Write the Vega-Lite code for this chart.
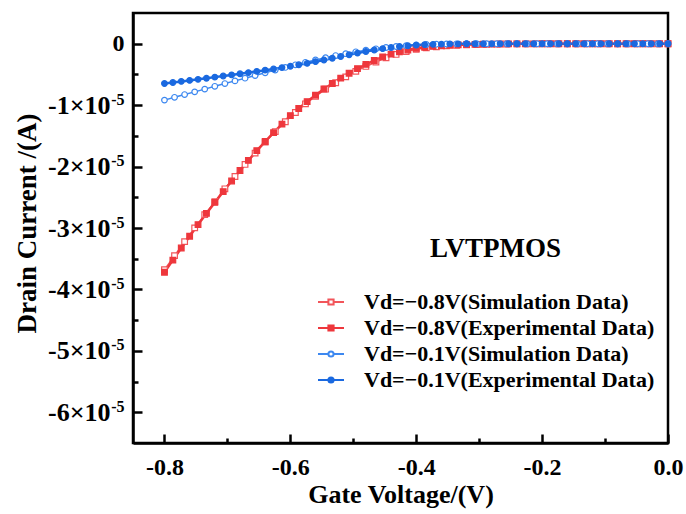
{
  "$schema": "https://vega.github.io/schema/vega-lite/v6.json",
  "width": 535,
  "height": 430,
  "autosize": {"type": "none"},
  "padding": {"left": 133, "top": 13, "right": 18, "bottom": 71},
  "background": "white",
  "config": {
    "view": {"stroke": "black", "strokeWidth": 2.5},
    "font": "Liberation Serif",
    "axis": {
      "grid": false,
      "domainColor": "black",
      "domainWidth": 2.5,
      "tickColor": "black",
      "tickWidth": 2.5,
      "labelFont": "Liberation Serif",
      "labelFontWeight": "bold",
      "labelFontSize": 24,
      "labelColor": "black",
      "labelFlush": false,
      "labelOverlap": false,
      "titleFont": "Liberation Serif",
      "titleFontWeight": "bold",
      "titleFontSize": 26,
      "titleColor": "black"
    }
  },
  "data": {
    "values": [
      {"series": "Vd=−0.8V(Simulation Data)", "V": -0.8, "I": -3.68e-5},
      {"series": "Vd=−0.8V(Simulation Data)", "V": -0.784, "I": -3.45e-5},
      {"series": "Vd=−0.8V(Simulation Data)", "V": -0.768, "I": -3.222e-5},
      {"series": "Vd=−0.8V(Simulation Data)", "V": -0.752, "I": -2.998e-5},
      {"series": "Vd=−0.8V(Simulation Data)", "V": -0.736, "I": -2.782e-5},
      {"series": "Vd=−0.8V(Simulation Data)", "V": -0.72, "I": -2.57e-5},
      {"series": "Vd=−0.8V(Simulation Data)", "V": -0.704, "I": -2.362e-5},
      {"series": "Vd=−0.8V(Simulation Data)", "V": -0.688, "I": -2.161e-5},
      {"series": "Vd=−0.8V(Simulation Data)", "V": -0.672, "I": -1.965e-5},
      {"series": "Vd=−0.8V(Simulation Data)", "V": -0.656, "I": -1.78e-5},
      {"series": "Vd=−0.8V(Simulation Data)", "V": -0.64, "I": -1.602e-5},
      {"series": "Vd=−0.8V(Simulation Data)", "V": -0.624, "I": -1.43e-5},
      {"series": "Vd=−0.8V(Simulation Data)", "V": -0.608, "I": -1.27e-5},
      {"series": "Vd=−0.8V(Simulation Data)", "V": -0.592, "I": -1.12e-5},
      {"series": "Vd=−0.8V(Simulation Data)", "V": -0.576, "I": -0.979e-5},
      {"series": "Vd=−0.8V(Simulation Data)", "V": -0.56, "I": -0.856e-5},
      {"series": "Vd=−0.8V(Simulation Data)", "V": -0.544, "I": -0.74e-5},
      {"series": "Vd=−0.8V(Simulation Data)", "V": -0.528, "I": -0.635e-5},
      {"series": "Vd=−0.8V(Simulation Data)", "V": -0.512, "I": -0.54e-5},
      {"series": "Vd=−0.8V(Simulation Data)", "V": -0.496, "I": -0.45e-5},
      {"series": "Vd=−0.8V(Simulation Data)", "V": -0.48, "I": -0.37e-5},
      {"series": "Vd=−0.8V(Simulation Data)", "V": -0.464, "I": -0.297e-5},
      {"series": "Vd=−0.8V(Simulation Data)", "V": -0.448, "I": -0.228e-5},
      {"series": "Vd=−0.8V(Simulation Data)", "V": -0.432, "I": -0.174e-5},
      {"series": "Vd=−0.8V(Simulation Data)", "V": -0.416, "I": -0.128e-5},
      {"series": "Vd=−0.8V(Simulation Data)", "V": -0.4, "I": -0.09e-5},
      {"series": "Vd=−0.8V(Simulation Data)", "V": -0.384, "I": -0.068e-5},
      {"series": "Vd=−0.8V(Simulation Data)", "V": -0.368, "I": -0.049e-5},
      {"series": "Vd=−0.8V(Simulation Data)", "V": -0.352, "I": -0.035e-5},
      {"series": "Vd=−0.8V(Simulation Data)", "V": -0.336, "I": -0.026e-5},
      {"series": "Vd=−0.8V(Simulation Data)", "V": -0.32, "I": -0.018e-5},
      {"series": "Vd=−0.8V(Simulation Data)", "V": -0.304, "I": -0.013e-5},
      {"series": "Vd=−0.8V(Simulation Data)", "V": -0.288, "I": -0.0096e-5},
      {"series": "Vd=−0.8V(Simulation Data)", "V": -0.272, "I": -0.0066e-5},
      {"series": "Vd=−0.8V(Simulation Data)", "V": -0.256, "I": -0.0047e-5},
      {"series": "Vd=−0.8V(Simulation Data)", "V": -0.24, "I": -0.0034e-5},
      {"series": "Vd=−0.8V(Simulation Data)", "V": -0.224, "I": -0.0025e-5},
      {"series": "Vd=−0.8V(Simulation Data)", "V": -0.208, "I": -0.0017e-5},
      {"series": "Vd=−0.8V(Simulation Data)", "V": -0.192, "I": -0.0011e-5},
      {"series": "Vd=−0.8V(Simulation Data)", "V": -0.176, "I": -0.0008e-5},
      {"series": "Vd=−0.8V(Simulation Data)", "V": -0.16, "I": -0.0006e-5},
      {"series": "Vd=−0.8V(Simulation Data)", "V": -0.144, "I": -0.0004e-5},
      {"series": "Vd=−0.8V(Simulation Data)", "V": -0.128, "I": -0.0002e-5},
      {"series": "Vd=−0.8V(Simulation Data)", "V": -0.112, "I": -0.00015e-5},
      {"series": "Vd=−0.8V(Simulation Data)", "V": -0.096, "I": -0.0001e-5},
      {"series": "Vd=−0.8V(Simulation Data)", "V": -0.08, "I": -0.00008e-5},
      {"series": "Vd=−0.8V(Simulation Data)", "V": -0.064, "I": -0.00006e-5},
      {"series": "Vd=−0.8V(Simulation Data)", "V": -0.048, "I": -0.00005e-5},
      {"series": "Vd=−0.8V(Simulation Data)", "V": -0.032, "I": -0.00004e-5},
      {"series": "Vd=−0.8V(Simulation Data)", "V": -0.016, "I": -0.00003e-5},
      {"series": "Vd=−0.8V(Simulation Data)", "V": 0, "I": -0.00002e-5},

      {"series": "Vd=−0.8V(Experimental Data)", "V": -0.8, "I": -3.72e-5},
      {"series": "Vd=−0.8V(Experimental Data)", "V": -0.78667, "I": -3.523e-5},
      {"series": "Vd=−0.8V(Experimental Data)", "V": -0.77333, "I": -3.326e-5},
      {"series": "Vd=−0.8V(Experimental Data)", "V": -0.76, "I": -3.134e-5},
      {"series": "Vd=−0.8V(Experimental Data)", "V": -0.74667, "I": -2.945e-5},
      {"series": "Vd=−0.8V(Experimental Data)", "V": -0.73333, "I": -2.763e-5},
      {"series": "Vd=−0.8V(Experimental Data)", "V": -0.72, "I": -2.584e-5},
      {"series": "Vd=−0.8V(Experimental Data)", "V": -0.70667, "I": -2.408e-5},
      {"series": "Vd=−0.8V(Experimental Data)", "V": -0.69333, "I": -2.235e-5},
      {"series": "Vd=−0.8V(Experimental Data)", "V": -0.68, "I": -2.064e-5},
      {"series": "Vd=−0.8V(Experimental Data)", "V": -0.66667, "I": -1.9e-5},
      {"series": "Vd=−0.8V(Experimental Data)", "V": -0.65333, "I": -1.74e-5},
      {"series": "Vd=−0.8V(Experimental Data)", "V": -0.64, "I": -1.592e-5},
      {"series": "Vd=−0.8V(Experimental Data)", "V": -0.62667, "I": -1.448e-5},
      {"series": "Vd=−0.8V(Experimental Data)", "V": -0.61333, "I": -1.309e-5},
      {"series": "Vd=−0.8V(Experimental Data)", "V": -0.6, "I": -1.17e-5},
      {"series": "Vd=−0.8V(Experimental Data)", "V": -0.58667, "I": -1.055e-5},
      {"series": "Vd=−0.8V(Experimental Data)", "V": -0.57333, "I": -0.942e-5},
      {"series": "Vd=−0.8V(Experimental Data)", "V": -0.56, "I": -0.838e-5},
      {"series": "Vd=−0.8V(Experimental Data)", "V": -0.54667, "I": -0.737e-5},
      {"series": "Vd=−0.8V(Experimental Data)", "V": -0.53333, "I": -0.647e-5},
      {"series": "Vd=−0.8V(Experimental Data)", "V": -0.52, "I": -0.56e-5},
      {"series": "Vd=−0.8V(Experimental Data)", "V": -0.50667, "I": -0.48e-5},
      {"series": "Vd=−0.8V(Experimental Data)", "V": -0.49333, "I": -0.405e-5},
      {"series": "Vd=−0.8V(Experimental Data)", "V": -0.48, "I": -0.336e-5},
      {"series": "Vd=−0.8V(Experimental Data)", "V": -0.46667, "I": -0.273e-5},
      {"series": "Vd=−0.8V(Experimental Data)", "V": -0.45333, "I": -0.215e-5},
      {"series": "Vd=−0.8V(Experimental Data)", "V": -0.44, "I": -0.17e-5},
      {"series": "Vd=−0.8V(Experimental Data)", "V": -0.42667, "I": -0.13e-5},
      {"series": "Vd=−0.8V(Experimental Data)", "V": -0.41333, "I": -0.102e-5},
      {"series": "Vd=−0.8V(Experimental Data)", "V": -0.4, "I": -0.075e-5},
      {"series": "Vd=−0.8V(Experimental Data)", "V": -0.38667, "I": -0.059e-5},
      {"series": "Vd=−0.8V(Experimental Data)", "V": -0.37333, "I": -0.044e-5},
      {"series": "Vd=−0.8V(Experimental Data)", "V": -0.36, "I": -0.034e-5},
      {"series": "Vd=−0.8V(Experimental Data)", "V": -0.34667, "I": -0.025e-5},
      {"series": "Vd=−0.8V(Experimental Data)", "V": -0.33333, "I": -0.019e-5},
      {"series": "Vd=−0.8V(Experimental Data)", "V": -0.32, "I": -0.014e-5},
      {"series": "Vd=−0.8V(Experimental Data)", "V": -0.30667, "I": -0.011e-5},
      {"series": "Vd=−0.8V(Experimental Data)", "V": -0.29333, "I": -0.008e-5},
      {"series": "Vd=−0.8V(Experimental Data)", "V": -0.28, "I": -0.006e-5},
      {"series": "Vd=−0.8V(Experimental Data)", "V": -0.26667, "I": -0.0043e-5},
      {"series": "Vd=−0.8V(Experimental Data)", "V": -0.25333, "I": -0.0033e-5},
      {"series": "Vd=−0.8V(Experimental Data)", "V": -0.24, "I": -0.0026e-5},
      {"series": "Vd=−0.8V(Experimental Data)", "V": -0.22667, "I": -0.002e-5},
      {"series": "Vd=−0.8V(Experimental Data)", "V": -0.21333, "I": -0.0015e-5},
      {"series": "Vd=−0.8V(Experimental Data)", "V": -0.2, "I": -0.001e-5},
      {"series": "Vd=−0.8V(Experimental Data)", "V": -0.18667, "I": -0.0008e-5},
      {"series": "Vd=−0.8V(Experimental Data)", "V": -0.17333, "I": -0.0007e-5},
      {"series": "Vd=−0.8V(Experimental Data)", "V": -0.16, "I": -0.0005e-5},
      {"series": "Vd=−0.8V(Experimental Data)", "V": -0.14667, "I": -0.0004e-5},
      {"series": "Vd=−0.8V(Experimental Data)", "V": -0.13333, "I": -0.0003e-5},
      {"series": "Vd=−0.8V(Experimental Data)", "V": -0.12, "I": -0.0002e-5},
      {"series": "Vd=−0.8V(Experimental Data)", "V": -0.10667, "I": -0.00015e-5},
      {"series": "Vd=−0.8V(Experimental Data)", "V": -0.09333, "I": -0.00012e-5},
      {"series": "Vd=−0.8V(Experimental Data)", "V": -0.08, "I": -0.0001e-5},
      {"series": "Vd=−0.8V(Experimental Data)", "V": -0.06667, "I": -0.00008e-5},
      {"series": "Vd=−0.8V(Experimental Data)", "V": -0.05333, "I": -0.00007e-5},
      {"series": "Vd=−0.8V(Experimental Data)", "V": -0.04, "I": -0.00006e-5},
      {"series": "Vd=−0.8V(Experimental Data)", "V": -0.02667, "I": -0.00005e-5},
      {"series": "Vd=−0.8V(Experimental Data)", "V": -0.01333, "I": -0.00004e-5},
      {"series": "Vd=−0.8V(Experimental Data)", "V": 0, "I": -0.00003e-5},

      {"series": "Vd=−0.1V(Simulation Data)", "V": -0.8, "I": -0.918e-5},
      {"series": "Vd=−0.1V(Simulation Data)", "V": -0.784, "I": -0.873e-5},
      {"series": "Vd=−0.1V(Simulation Data)", "V": -0.768, "I": -0.828e-5},
      {"series": "Vd=−0.1V(Simulation Data)", "V": -0.752, "I": -0.784e-5},
      {"series": "Vd=−0.1V(Simulation Data)", "V": -0.736, "I": -0.739e-5},
      {"series": "Vd=−0.1V(Simulation Data)", "V": -0.72, "I": -0.694e-5},
      {"series": "Vd=−0.1V(Simulation Data)", "V": -0.704, "I": -0.649e-5},
      {"series": "Vd=−0.1V(Simulation Data)", "V": -0.688, "I": -0.605e-5},
      {"series": "Vd=−0.1V(Simulation Data)", "V": -0.672, "I": -0.561e-5},
      {"series": "Vd=−0.1V(Simulation Data)", "V": -0.656, "I": -0.517e-5},
      {"series": "Vd=−0.1V(Simulation Data)", "V": -0.64, "I": -0.473e-5},
      {"series": "Vd=−0.1V(Simulation Data)", "V": -0.624, "I": -0.429e-5},
      {"series": "Vd=−0.1V(Simulation Data)", "V": -0.608, "I": -0.386e-5},
      {"series": "Vd=−0.1V(Simulation Data)", "V": -0.592, "I": -0.344e-5},
      {"series": "Vd=−0.1V(Simulation Data)", "V": -0.576, "I": -0.303e-5},
      {"series": "Vd=−0.1V(Simulation Data)", "V": -0.56, "I": -0.264e-5},
      {"series": "Vd=−0.1V(Simulation Data)", "V": -0.544, "I": -0.227e-5},
      {"series": "Vd=−0.1V(Simulation Data)", "V": -0.528, "I": -0.193e-5},
      {"series": "Vd=−0.1V(Simulation Data)", "V": -0.512, "I": -0.162e-5},
      {"series": "Vd=−0.1V(Simulation Data)", "V": -0.496, "I": -0.132e-5},
      {"series": "Vd=−0.1V(Simulation Data)", "V": -0.48, "I": -0.106e-5},
      {"series": "Vd=−0.1V(Simulation Data)", "V": -0.464, "I": -0.083e-5},
      {"series": "Vd=−0.1V(Simulation Data)", "V": -0.448, "I": -0.062e-5},
      {"series": "Vd=−0.1V(Simulation Data)", "V": -0.432, "I": -0.045e-5},
      {"series": "Vd=−0.1V(Simulation Data)", "V": -0.416, "I": -0.0315e-5},
      {"series": "Vd=−0.1V(Simulation Data)", "V": -0.4, "I": -0.02e-5},
      {"series": "Vd=−0.1V(Simulation Data)", "V": -0.384, "I": -0.013e-5},
      {"series": "Vd=−0.1V(Simulation Data)", "V": -0.368, "I": -0.0075e-5},
      {"series": "Vd=−0.1V(Simulation Data)", "V": -0.352, "I": -0.0039e-5},
      {"series": "Vd=−0.1V(Simulation Data)", "V": -0.336, "I": -0.0022e-5},
      {"series": "Vd=−0.1V(Simulation Data)", "V": -0.32, "I": -0.001e-5},
      {"series": "Vd=−0.1V(Simulation Data)", "V": -0.304, "I": -0.0005e-5},
      {"series": "Vd=−0.1V(Simulation Data)", "V": -0.288, "I": -0.0003e-5},
      {"series": "Vd=−0.1V(Simulation Data)", "V": -0.272, "I": -0.0002e-5},
      {"series": "Vd=−0.1V(Simulation Data)", "V": -0.256, "I": -0.00015e-5},
      {"series": "Vd=−0.1V(Simulation Data)", "V": -0.24, "I": -0.0001e-5},
      {"series": "Vd=−0.1V(Simulation Data)", "V": -0.224, "I": -0.00009e-5},
      {"series": "Vd=−0.1V(Simulation Data)", "V": -0.208, "I": -0.00008e-5},
      {"series": "Vd=−0.1V(Simulation Data)", "V": -0.192, "I": -0.00007e-5},
      {"series": "Vd=−0.1V(Simulation Data)", "V": -0.176, "I": -0.00006e-5},
      {"series": "Vd=−0.1V(Simulation Data)", "V": -0.16, "I": -0.00005e-5},
      {"series": "Vd=−0.1V(Simulation Data)", "V": -0.144, "I": -0.00005e-5},
      {"series": "Vd=−0.1V(Simulation Data)", "V": -0.128, "I": -0.00004e-5},
      {"series": "Vd=−0.1V(Simulation Data)", "V": -0.112, "I": -0.00004e-5},
      {"series": "Vd=−0.1V(Simulation Data)", "V": -0.096, "I": -0.00003e-5},
      {"series": "Vd=−0.1V(Simulation Data)", "V": -0.08, "I": -0.00003e-5},
      {"series": "Vd=−0.1V(Simulation Data)", "V": -0.064, "I": -0.00002e-5},
      {"series": "Vd=−0.1V(Simulation Data)", "V": -0.048, "I": -0.00002e-5},
      {"series": "Vd=−0.1V(Simulation Data)", "V": -0.032, "I": -0.00002e-5},
      {"series": "Vd=−0.1V(Simulation Data)", "V": -0.016, "I": -0.00001e-5},
      {"series": "Vd=−0.1V(Simulation Data)", "V": 0, "I": -0.00001e-5},

      {"series": "Vd=−0.1V(Experimental Data)", "V": -0.8, "I": -0.648e-5},
      {"series": "Vd=−0.1V(Experimental Data)", "V": -0.78667, "I": -0.631e-5},
      {"series": "Vd=−0.1V(Experimental Data)", "V": -0.77333, "I": -0.614e-5},
      {"series": "Vd=−0.1V(Experimental Data)", "V": -0.76, "I": -0.597e-5},
      {"series": "Vd=−0.1V(Experimental Data)", "V": -0.74667, "I": -0.58e-5},
      {"series": "Vd=−0.1V(Experimental Data)", "V": -0.73333, "I": -0.562e-5},
      {"series": "Vd=−0.1V(Experimental Data)", "V": -0.72, "I": -0.544e-5},
      {"series": "Vd=−0.1V(Experimental Data)", "V": -0.70667, "I": -0.526e-5},
      {"series": "Vd=−0.1V(Experimental Data)", "V": -0.69333, "I": -0.508e-5},
      {"series": "Vd=−0.1V(Experimental Data)", "V": -0.68, "I": -0.489e-5},
      {"series": "Vd=−0.1V(Experimental Data)", "V": -0.66667, "I": -0.47e-5},
      {"series": "Vd=−0.1V(Experimental Data)", "V": -0.65333, "I": -0.451e-5},
      {"series": "Vd=−0.1V(Experimental Data)", "V": -0.64, "I": -0.431e-5},
      {"series": "Vd=−0.1V(Experimental Data)", "V": -0.62667, "I": -0.411e-5},
      {"series": "Vd=−0.1V(Experimental Data)", "V": -0.61333, "I": -0.389e-5},
      {"series": "Vd=−0.1V(Experimental Data)", "V": -0.6, "I": -0.367e-5},
      {"series": "Vd=−0.1V(Experimental Data)", "V": -0.58667, "I": -0.343e-5},
      {"series": "Vd=−0.1V(Experimental Data)", "V": -0.57333, "I": -0.319e-5},
      {"series": "Vd=−0.1V(Experimental Data)", "V": -0.56, "I": -0.292e-5},
      {"series": "Vd=−0.1V(Experimental Data)", "V": -0.54667, "I": -0.265e-5},
      {"series": "Vd=−0.1V(Experimental Data)", "V": -0.53333, "I": -0.237e-5},
      {"series": "Vd=−0.1V(Experimental Data)", "V": -0.52, "I": -0.208e-5},
      {"series": "Vd=−0.1V(Experimental Data)", "V": -0.50667, "I": -0.18e-5},
      {"series": "Vd=−0.1V(Experimental Data)", "V": -0.49333, "I": -0.153e-5},
      {"series": "Vd=−0.1V(Experimental Data)", "V": -0.48, "I": -0.127e-5},
      {"series": "Vd=−0.1V(Experimental Data)", "V": -0.46667, "I": -0.103e-5},
      {"series": "Vd=−0.1V(Experimental Data)", "V": -0.45333, "I": -0.081e-5},
      {"series": "Vd=−0.1V(Experimental Data)", "V": -0.44, "I": -0.062e-5},
      {"series": "Vd=−0.1V(Experimental Data)", "V": -0.42667, "I": -0.045e-5},
      {"series": "Vd=−0.1V(Experimental Data)", "V": -0.41333, "I": -0.033e-5},
      {"series": "Vd=−0.1V(Experimental Data)", "V": -0.4, "I": -0.022e-5},
      {"series": "Vd=−0.1V(Experimental Data)", "V": -0.38667, "I": -0.0156e-5},
      {"series": "Vd=−0.1V(Experimental Data)", "V": -0.37333, "I": -0.0096e-5},
      {"series": "Vd=−0.1V(Experimental Data)", "V": -0.36, "I": -0.0064e-5},
      {"series": "Vd=−0.1V(Experimental Data)", "V": -0.34667, "I": -0.0037e-5},
      {"series": "Vd=−0.1V(Experimental Data)", "V": -0.33333, "I": -0.0023e-5},
      {"series": "Vd=−0.1V(Experimental Data)", "V": -0.32, "I": -0.0013e-5},
      {"series": "Vd=−0.1V(Experimental Data)", "V": -0.30667, "I": -0.0008e-5},
      {"series": "Vd=−0.1V(Experimental Data)", "V": -0.29333, "I": -0.0005e-5},
      {"series": "Vd=−0.1V(Experimental Data)", "V": -0.28, "I": -0.0004e-5},
      {"series": "Vd=−0.1V(Experimental Data)", "V": -0.26667, "I": -0.0003e-5},
      {"series": "Vd=−0.1V(Experimental Data)", "V": -0.25333, "I": -0.00025e-5},
      {"series": "Vd=−0.1V(Experimental Data)", "V": -0.24, "I": -0.0002e-5},
      {"series": "Vd=−0.1V(Experimental Data)", "V": -0.22667, "I": -0.00018e-5},
      {"series": "Vd=−0.1V(Experimental Data)", "V": -0.21333, "I": -0.00015e-5},
      {"series": "Vd=−0.1V(Experimental Data)", "V": -0.2, "I": -0.00012e-5},
      {"series": "Vd=−0.1V(Experimental Data)", "V": -0.18667, "I": -0.0001e-5},
      {"series": "Vd=−0.1V(Experimental Data)", "V": -0.17333, "I": -0.00009e-5},
      {"series": "Vd=−0.1V(Experimental Data)", "V": -0.16, "I": -0.00008e-5},
      {"series": "Vd=−0.1V(Experimental Data)", "V": -0.14667, "I": -0.00007e-5},
      {"series": "Vd=−0.1V(Experimental Data)", "V": -0.13333, "I": -0.00006e-5},
      {"series": "Vd=−0.1V(Experimental Data)", "V": -0.12, "I": -0.00005e-5},
      {"series": "Vd=−0.1V(Experimental Data)", "V": -0.10667, "I": -0.00005e-5},
      {"series": "Vd=−0.1V(Experimental Data)", "V": -0.09333, "I": -0.00004e-5},
      {"series": "Vd=−0.1V(Experimental Data)", "V": -0.08, "I": -0.00004e-5},
      {"series": "Vd=−0.1V(Experimental Data)", "V": -0.06667, "I": -0.00003e-5},
      {"series": "Vd=−0.1V(Experimental Data)", "V": -0.05333, "I": -0.00003e-5},
      {"series": "Vd=−0.1V(Experimental Data)", "V": -0.04, "I": -0.00002e-5},
      {"series": "Vd=−0.1V(Experimental Data)", "V": -0.02667, "I": -0.00002e-5},
      {"series": "Vd=−0.1V(Experimental Data)", "V": -0.01333, "I": -0.00001e-5},
      {"series": "Vd=−0.1V(Experimental Data)", "V": 0, "I": -0.00001e-5}
    ]
  },
  "resolve": {
    "scale": {"color": "independent", "shape": "independent", "fill": "independent"},
    "axis": {"x": "independent", "y": "independent"}
  },
  "layer": [
    {
      "transform": [{"filter": "indexof(datum.series, 'Simulation') >= 0"}],
      "mark": {"type": "line", "strokeWidth": 1.5},
      "encoding": {
        "x": {
          "field": "V",
          "type": "quantitative",
          "scale": {"domain": [-0.85, 0], "nice": false, "zero": false},
          "axis": {
            "title": "Gate Voltage/(V)",
            "values": [-0.8, -0.7, -0.6, -0.5, -0.4, -0.3, -0.2, -0.1, 0],
            "labelExpr": "abs(round(datum.value * 10)) % 2 == 1 ? '' : replace(format(datum.value, '.1f'), '−', '-')",
            "tickSize": {"condition": {"test": "abs(round(datum.value * 10)) % 2 == 1", "value": -5}, "value": -9},
            "labelPadding": 21,
            "titleY": 51,
            "titleBaseline": "middle"
          }
        },
        "y": {
          "field": "I",
          "type": "quantitative",
          "scale": {"domain": [-6.5e-5, 0.5e-5], "nice": false, "zero": false},
          "axis": {
            "title": "Drain Current /(A)",
            "titleFontSize": 27,
            "values": [0, -0.5e-5, -1e-5, -1.5e-5, -2e-5, -2.5e-5, -3e-5, -3.5e-5, -4e-5, -4.5e-5, -5e-5, -5.5e-5, -6e-5],
            "labelExpr": "datum.value == 0 ? '0' : (abs(round(datum.value * 2e5)) % 2 == 1 ? '' : round(datum.value * 1e5) + '×10')",
            "labelFontSize": {"condition": {"test": "datum.value == 0", "value": 24}, "value": 26},
            "tickSize": {"condition": {"test": "abs(round(datum.value * 2e5)) % 2 == 1", "value": -5}, "value": -9},
            "labelPadding": {"condition": {"test": "datum.value == 0", "value": 18}, "value": 32},
            "titleX": -106,
            "titleY": 210,
            "titleBaseline": "middle"
          }
        },
        "color": {
          "field": "series",
          "type": "nominal",
          "scale": {
            "domain": ["Vd=−0.8V(Simulation Data)", "Vd=−0.8V(Experimental Data)", "Vd=−0.1V(Simulation Data)", "Vd=−0.1V(Experimental Data)"],
            "range": ["#F2555A", "#EE373C", "#3D88F0", "#1A69E0"]
          },
          "legend": null
        }
      }
    },
    {
      "transform": [{"filter": "indexof(datum.series, 'Experimental') >= 0"}],
      "mark": {"type": "line", "strokeWidth": 2.5},
      "encoding": {
        "x": {
          "field": "V",
          "type": "quantitative",
          "scale": {"domain": [-0.85, 0], "nice": false, "zero": false},
          "axis": null
        },
        "y": {
          "field": "I",
          "type": "quantitative",
          "scale": {"domain": [-6.5e-5, 0.5e-5], "nice": false, "zero": false},
          "axis": null
        },
        "color": {
          "field": "series",
          "type": "nominal",
          "scale": {
            "domain": ["Vd=−0.8V(Simulation Data)", "Vd=−0.8V(Experimental Data)", "Vd=−0.1V(Simulation Data)", "Vd=−0.1V(Experimental Data)"],
            "range": ["#F2555A", "#EE373C", "#3D88F0", "#1A69E0"]
          },
          "legend": null
        }
      }
    },
    {
      "mark": {"type": "point", "filled": false, "strokeWidth": 1.2, "opacity": 1},
      "encoding": {
        "x": {
          "field": "V",
          "type": "quantitative",
          "scale": {"domain": [-0.85, 0], "nice": false, "zero": false},
          "axis": null
        },
        "y": {
          "field": "I",
          "type": "quantitative",
          "scale": {"domain": [-6.5e-5, 0.5e-5], "nice": false, "zero": false},
          "axis": null
        },
        "color": {
          "field": "series",
          "type": "nominal",
          "scale": {
            "domain": ["Vd=−0.8V(Simulation Data)", "Vd=−0.8V(Experimental Data)", "Vd=−0.1V(Simulation Data)", "Vd=−0.1V(Experimental Data)"],
            "range": ["#F2555A", "#EE373C", "#3D88F0", "#1A69E0"]
          },
          "legend": null
        },
        "shape": {
          "field": "series",
          "type": "nominal",
          "scale": {
            "domain": ["Vd=−0.8V(Simulation Data)", "Vd=−0.8V(Experimental Data)", "Vd=−0.1V(Simulation Data)", "Vd=−0.1V(Experimental Data)"],
            "range": ["square", "square", "circle", "circle"]
          },
          "legend": null
        },
        "fill": {
          "field": "series",
          "type": "nominal",
          "scale": {
            "domain": ["Vd=−0.8V(Simulation Data)", "Vd=−0.8V(Experimental Data)", "Vd=−0.1V(Simulation Data)", "Vd=−0.1V(Experimental Data)"],
            "range": ["white", "#EE373C", "white", "#1A69E0"]
          },
          "legend": null
        },
        "size": {"value": 32}
      }
    },
    {
      "transform": [{"filter": "false"}],
      "mark": {"type": "point", "filled": false, "strokeWidth": 2, "opacity": 1},
      "encoding": {
        "x": {
          "field": "V",
          "type": "quantitative",
          "scale": {"domain": [-0.85, 0], "nice": false, "zero": false},
          "axis": {
            "orient": "top",
            "title": "LVTPMOS",
            "titleFontSize": 27,
            "titleX": 362,
            "titleY": 243,
            "titleAlign": "center",
            "titleBaseline": "alphabetic",
            "labels": false,
            "ticks": false,
            "domain": false
          }
        },
        "y": {
          "field": "I",
          "type": "quantitative",
          "scale": {"domain": [-6.5e-5, 0.5e-5], "nice": false, "zero": false},
          "axis": {
            "orient": "left",
            "title": null,
            "values": [-1e-5, -2e-5, -3e-5, -4e-5, -5e-5, -6e-5],
            "labelExpr": "'-5'",
            "labelFontSize": 16,
            "labelOffset": -6,
            "labelPadding": 9,
            "labelAlign": "right",
            "ticks": false,
            "domain": false
          }
        },
        "color": {
          "field": "series",
          "type": "nominal",
          "scale": {
            "domain": ["Vd=−0.8V(Simulation Data)", "Vd=−0.8V(Experimental Data)", "Vd=−0.1V(Simulation Data)", "Vd=−0.1V(Experimental Data)"],
            "range": ["#F2555A", "#EE373C", "#3D88F0", "#1A69E0"]
          },
          "legend": {
            "title": null,
            "orient": "none",
            "legendX": 184,
            "legendY": 275,
            "padding": 0,
            "rowPadding": 1,
            "labelFont": "Liberation Serif",
            "labelFontSize": 22,
            "labelFontWeight": "bold",
            "labelColor": "black",
            "labelLimit": 500,
            "labelOffset": 19,
            "symbolSize": 676,
            "symbolStrokeWidth": 2,
            "symbolOpacity": 1
          }
        },
        "shape": {
          "field": "series",
          "type": "nominal",
          "scale": {
            "domain": ["Vd=−0.8V(Simulation Data)", "Vd=−0.8V(Experimental Data)", "Vd=−0.1V(Simulation Data)", "Vd=−0.1V(Experimental Data)"],
            "range": [
              "M-1,0H-0.2M0.2,0H1M-0.2,-0.2H0.2V0.2H-0.2Z",
              "M-1,0H1M-0.2,-0.2H0.2V0.2H-0.2Z",
              "M-1,0H-0.2M0.2,0H1M0.2,0A0.2,0.2,0,1,1,-0.2,0A0.2,0.2,0,1,1,0.2,0Z",
              "M-1,0H1M0.2,0A0.2,0.2,0,1,1,-0.2,0A0.2,0.2,0,1,1,0.2,0Z"
            ]
          },
          "legend": {"title": null}
        },
        "fill": {
          "field": "series",
          "type": "nominal",
          "scale": {
            "domain": ["Vd=−0.8V(Simulation Data)", "Vd=−0.8V(Experimental Data)", "Vd=−0.1V(Simulation Data)", "Vd=−0.1V(Experimental Data)"],
            "range": ["white", "#EE373C", "white", "#1A69E0"]
          },
          "legend": {"title": null}
        }
      }
    }
  ]
}
